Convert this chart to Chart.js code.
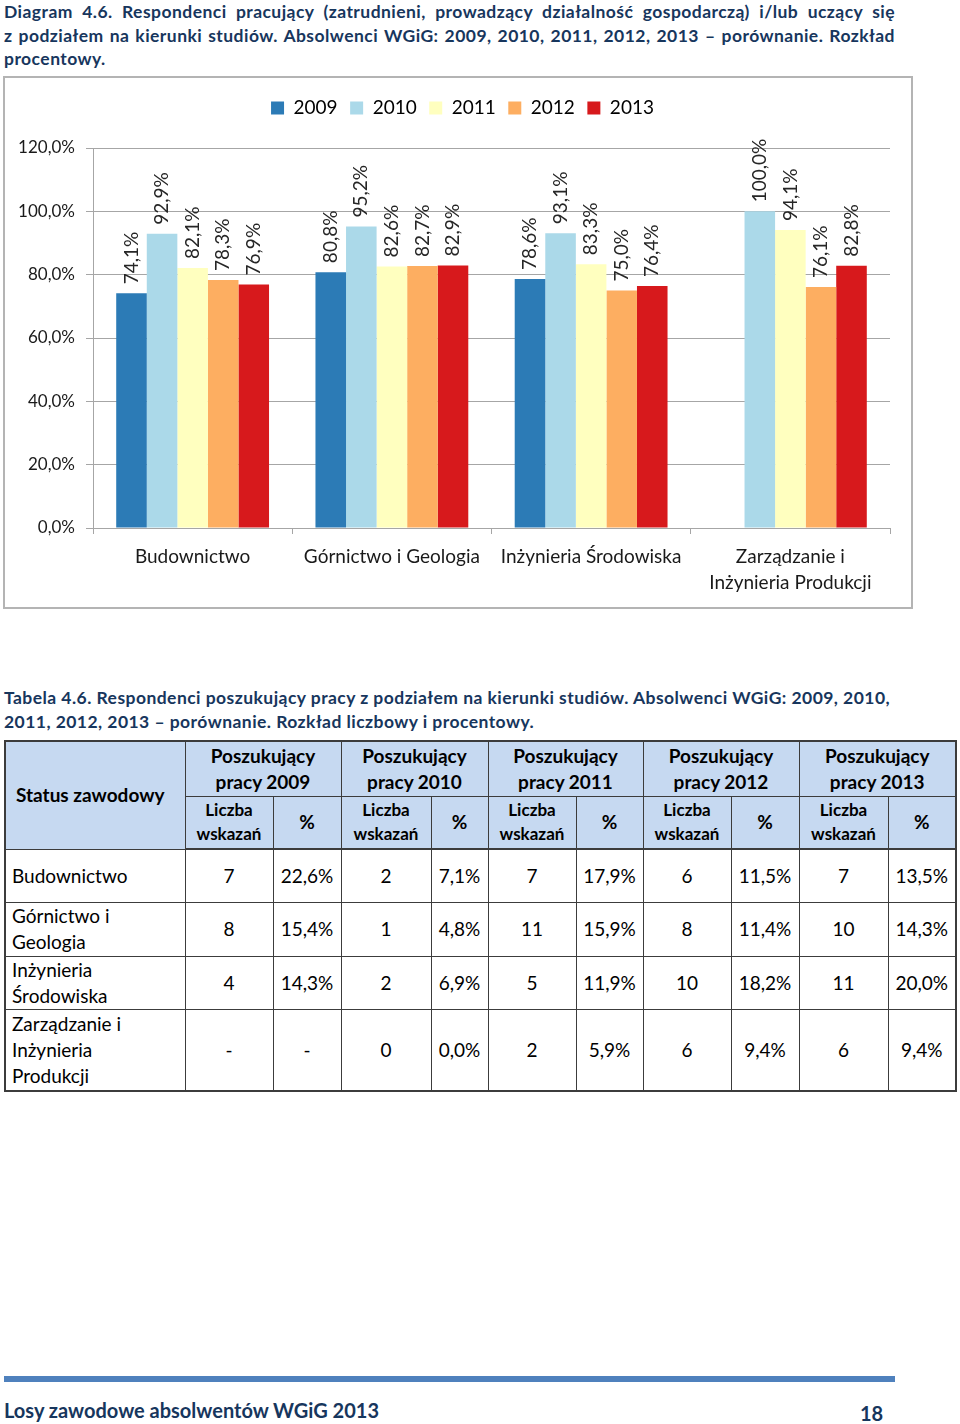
<!DOCTYPE html>
<html lang="pl">
<head>
<meta charset="utf-8">
<script src="https://cdn.jsdelivr.net/npm/chart.js@4.4.1/dist/chart.umd.min.js"></script>
<style>
  body { margin: 0; width: 960px; height: 1424px; background: #fff; position: relative; font-family: Lato, "Open Sans", sans-serif; color: #000; }
  .cap { position: absolute; left: 4px; width: 891px; font-weight: bold; font-size: 17.5px; letter-spacing: 0.45px; color: #17365d; line-height: 23.5px; }
  .cap .j { text-align: justify; text-align-last: justify; white-space: nowrap; }
  #chartBox { position: absolute; left: 3px; top: 76px; width: 910px; height: 533px; border: 2px solid #b4b4b4; box-sizing: border-box; }
  #chartBox canvas { position: absolute; left: 0; top: 0; }
  table { position: absolute; left: 4px; top: 740px; border-collapse: collapse; table-layout: fixed; width: 951px; border: 2px solid #3c3c3c; }
  td, th { border: 1px solid #3c3c3c; font-size: 19px; line-height: 26px; padding: 0; text-align: center; }
  th { background: #c6d9f1; font-weight: bold; }
  th.sub { font-size: 17px; line-height: 24px; }
  th.status { text-align: left; padding-left: 10px; }
  td.name { text-align: left; padding-left: 6px; }
  thead tr:last-child th { border-bottom: 2px solid #3c3c3c; }
  .bar { position: absolute; left: 4px; top: 1376px; width: 891px; height: 6px; background: #4f81bd; }
  .foot { position: absolute; top: 1398px; font-weight: bold; font-size: 20px; color: #17365d; }
</style>
</head>
<body>
<div class="cap" style="top:0px">
  <div class="j">Diagram 4.6. Respondenci pracujący (zatrudnieni, prowadzący działalność gospodarczą) i/lub uczący się</div>
  <div class="j">z podziałem na kierunki studiów. Absolwenci WGiG: 2009, 2010, 2011, 2012, 2013 – porównanie. Rozkład</div>
  <div>procentowy.</div>
</div>

<div id="chartBox"><canvas id="chBar" width="906" height="529"></canvas></div>

<div class="cap" style="top:686px; width:950px">Tabela 4.6. Respondenci poszukujący pracy z podziałem na kierunki studiów. Absolwenci WGiG: 2009, 2010,<br>2011, 2012, 2013 – porównanie. Rozkład liczbowy i procentowy.</div>

<table id="tab">
  <colgroup>
    <col style="width:180px"><col style="width:88px"><col style="width:68px"><col style="width:90px"><col style="width:57px">
    <col style="width:88px"><col style="width:67px"><col style="width:88px"><col style="width:68px"><col style="width:89px"><col style="width:68px">
  </colgroup>
  <thead id="thead"></thead>
  <tbody id="tbody"></tbody>
</table>

<div class="bar"></div>
<div class="foot" style="left:4px">Losy zawodowe absolwentów WGiG 2013</div>
<div class="foot" style="left:860px; top:1401px">18</div>

<script>
// chart data
var categories = ["Budownictwo", "Górnictwo i Geologia", "Inżynieria Środowiska", ["Zarządzanie i", "Inżynieria Produkcji"]];
var years = ["2009", "2010", "2011", "2012", "2013"];
var v2009 = [74.1, 80.8, 78.6, null];
var v2010 = [92.9, 95.2, 93.1, 100.0];
var v2011 = [82.1, 82.6, 83.3, 94.1];
var v2012 = [78.3, 82.7, 75.0, 76.1];
var v2013 = [76.9, 82.9, 76.4, 82.8];
var yTicks = [0, 20, 40, 60, 80, 100, 120];

// colors
var colors = ["#2c7bb6", "#abd9e9", "#ffffbf", "#fdae61", "#d7191c"];

// table data
var rowNames = ["Budownictwo", "Górnictwo i<br>Geologia", "Inżynieria<br>Środowiska", "Zarządzanie i<br>Inżynieria<br>Produkcji"];
var rowHeights = [53, 54, 53, 82];
var count2009 = ["7", "8", "4", "-"];
var pct2009 = ["22,6%", "15,4%", "14,3%", "-"];
var count2010 = ["2", "1", "2", "0"];
var pct2010 = ["7,1%", "4,8%", "6,9%", "0,0%"];
var count2011 = ["7", "11", "5", "2"];
var pct2011 = ["17,9%", "15,9%", "11,9%", "5,9%"];
var count2012 = ["6", "8", "10", "6"];
var pct2012 = ["11,5%", "11,4%", "18,2%", "9,4%"];
var count2013 = ["7", "10", "11", "6"];
var pct2013 = ["13,5%", "14,3%", "20,0%", "9,4%"];

function fmtPct(v) {
  return v.toFixed(1).replace(".", ",") + "%";
}

var fontFam = "Lato, 'Open Sans', sans-serif";

// rotated value labels above the bars
var barLabels = {
  id: "barLabels",
  afterDatasetsDraw: function(chart) {
    var ctx = chart.ctx;
    ctx.save();
    ctx.font = "19px " + fontFam;
    ctx.fillStyle = "#262626";
    ctx.textAlign = "left";
    ctx.textBaseline = "middle";
    chart.data.datasets.forEach(function(ds, i) {
      var meta = chart.getDatasetMeta(i);
      meta.data.forEach(function(bar, j) {
        var v = ds.data[j];
        if (v === null) return;
        ctx.save();
        ctx.translate(bar.x, bar.y - 9);
        ctx.rotate(-Math.PI / 2);
        ctx.fillText(fmtPct(v), 0, 0);
        ctx.restore();
      });
    });
    ctx.restore();
  }
};

// fixed legend height so the plot starts where it does in the picture,
// and nudge the legend a bit to the right like in the original
var legendFix = {
  id: "legendFix",
  beforeLayout: function(chart) {
    if (chart.legend && !chart.legend._fixed) {
      var fit = chart.legend.fit;
      chart.legend.fit = function() {
        fit.call(this);
        this.height = 62;
      };
      chart.legend._fixed = true;
    }
  },
  afterLayout: function(chart) {
    if (chart.legend) {
      chart.legend.left += 15;
      chart.legend.right += 15;
    }
  }
};

var seriesVals = [v2009, v2010, v2011, v2012, v2013];
var datasets = years.map(function(y, i) {
  return {
    label: y,
    data: seriesVals[i],
    backgroundColor: colors[i],
    borderWidth: 0,
    categoryPercentage: 0.767,
    barPercentage: 1.0
  };
});

var chBar = document.getElementById("chBar");
if (chBar) {
  new Chart(chBar, {
    type: "bar",
    data: { labels: categories, datasets: datasets },
    plugins: [barLabels, legendFix],
    options: {
      responsive: false,
      animation: false,
      devicePixelRatio: 1,
      layout: { padding: { top: 8, right: 21, left: 0, bottom: 0 } },
      plugins: {
        tooltip: { enabled: false },
        legend: {
          position: "top",
          labels: {
            boxWidth: 13,
            boxHeight: 13,
            padding: 12.5,
            color: "#000",
            font: { family: fontFam, size: 19 }
          }
        }
      },
      scales: {
        y: {
          min: 0,
          max: 120,
          afterBuildTicks: function(scale) {
            scale.ticks = yTicks.map(function(v) { return { value: v }; });
          },
          afterFit: function(scale) { scale.width = 88; },
          ticks: {
            padding: 11,
            color: "#1a1a1a",
            font: { family: fontFam, size: 17 },
            callback: function(v) { return fmtPct(v); }
          },
          grid: { color: "#a6a6a6", lineWidth: 1, tickLength: 7 },
          border: { color: "#a6a6a6", width: 1 }
        },
        x: {
          afterFit: function(scale) { scale.height = 79; },
          ticks: {
            padding: 10,
            color: "#1a1a1a",
            maxRotation: 0,
            autoSkip: false,
            font: { family: fontFam, size: 19, lineHeight: 1.37 }
          },
          grid: { display: true, drawOnChartArea: false, color: "#a6a6a6", tickLength: 6, offset: true },
          border: { color: "#a6a6a6", width: 1 }
        }
      }
    }
  });
}

// table
var thead = document.getElementById("thead");
var h1 = '<tr style="height:55px"><th class="status" rowspan="2">Status zawodowy</th>';
var h2 = '<tr style="height:53px">';
years.forEach(function(y) {
  h1 += '<th colspan="2">Poszukujący<br>pracy ' + y + '</th>';
  h2 += '<th class="sub">Liczba<br>wskazań</th><th>%</th>';
});
thead.innerHTML = h1 + '</tr>' + h2 + '</tr>';

var cols = [count2009, pct2009, count2010, pct2010, count2011, pct2011, count2012, pct2012, count2013, pct2013];
var tbody = document.getElementById("tbody");
var rows = "";
rowNames.forEach(function(name, i) {
  rows += '<tr style="height:' + rowHeights[i] + 'px"><td class="name">' + name + '</td>';
  cols.forEach(function(c) { rows += '<td>' + c[i] + '</td>'; });
  rows += '</tr>';
});
tbody.innerHTML = rows;
</script>
</body>
</html>
